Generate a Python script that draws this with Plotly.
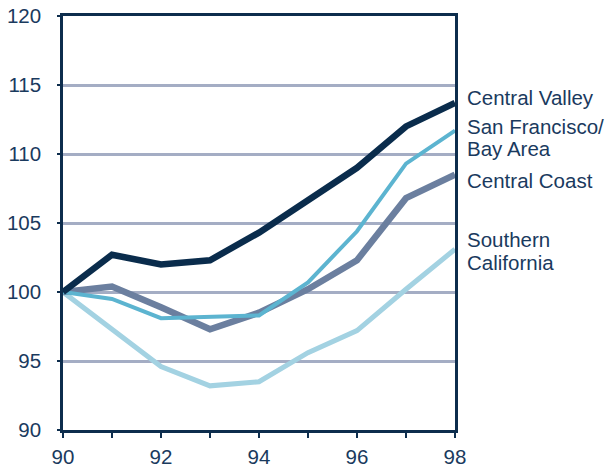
import plotly.graph_objects as go

years = [90, 91, 92, 93, 94, 95, 96, 97, 98]
central_valley = [100, 102.7, 102.0, 102.3, 104.3, 106.7, 109.0, 112.0, 113.7]
san_francisco = [100, 99.5, 98.1, 98.2, 98.3, 100.7, 104.4, 109.3, 111.7]
central_coast = [100, 100.4, 98.9, 97.3, 98.5, 100.2, 102.3, 106.8, 108.5]
southern_cal = [100, 97.3, 94.6, 93.2, 93.5, 95.6, 97.2, 100.2, 103.1]

x_tick_vals = years
x_tick_text = ["90", "", "92", "", "94", "", "96", "", "98"]
y_tick_vals = [90, 95, 100, 105, 110, 115, 120]

navy = "#0d2d4d"
text_col = "#1a3a5e"
grid_col = "#a4adc4"

series = [
    ("Southern California", southern_cal, "#a3d2e2", 5),
    ("Central Coast", central_coast, "#6b7f9f", 6.5),
    ("San Francisco/Bay Area", san_francisco, "#5cb4d0", 4),
    ("Central Valley", central_valley, "#0a2c4c", 6.5),
]

fig = go.Figure()
for name, vals, color, width in series:
    fig.add_trace(go.Scatter(
        x=years, y=vals, mode="lines", name=name,
        line=dict(color=color, width=width),
        showlegend=False, cliponaxis=False,
    ))

# end-of-line labels, one annotation per text line
labels = [
    ("Central Valley", 114.1),
    ("San Francisco/", 111.98),
    ("Bay Area", 110.4),
    ("Central Coast", 108.07),
    ("Southern", 103.77),
    ("California", 102.16),
]
for txt, yv in labels:
    fig.add_annotation(
        x=1.0, xref="paper", xshift=10, y=yv, yref="y",
        text=txt, showarrow=False, xanchor="left", yanchor="middle",
        font=dict(family="Liberation Sans, Arial, sans-serif", size=20.5, color=text_col),
    )

fig.update_layout(
    width=607, height=471,
    margin=dict(l=63, r=152, t=16, b=40.5),
    paper_bgcolor="white", plot_bgcolor="white",
    font=dict(family="Liberation Sans, Arial, sans-serif", size=20, color=text_col),
)
fig.update_xaxes(
    range=[90, 98], tickvals=x_tick_vals, ticktext=x_tick_text,
    showgrid=False, zeroline=False, automargin=False,
    showline=True, linecolor=navy, linewidth=2.5, mirror=True,
    ticks="outside", ticklen=5, tickwidth=2, tickcolor=navy,
    ticklabelstandoff=2,
    tickfont=dict(size=20.5, color=text_col),
)
fig.update_yaxes(
    range=[90, 120], tickvals=y_tick_vals,
    showgrid=True, gridcolor=grid_col, gridwidth=2.5, zeroline=False, automargin=False,
    showline=True, linecolor=navy, linewidth=2.5, mirror=True,
    ticks="outside", ticklen=3, tickwidth=2, tickcolor=navy,
    ticklabelstandoff=12,
    tickfont=dict(size=20.5, color=text_col),
)

fig.write_html("out.html")
